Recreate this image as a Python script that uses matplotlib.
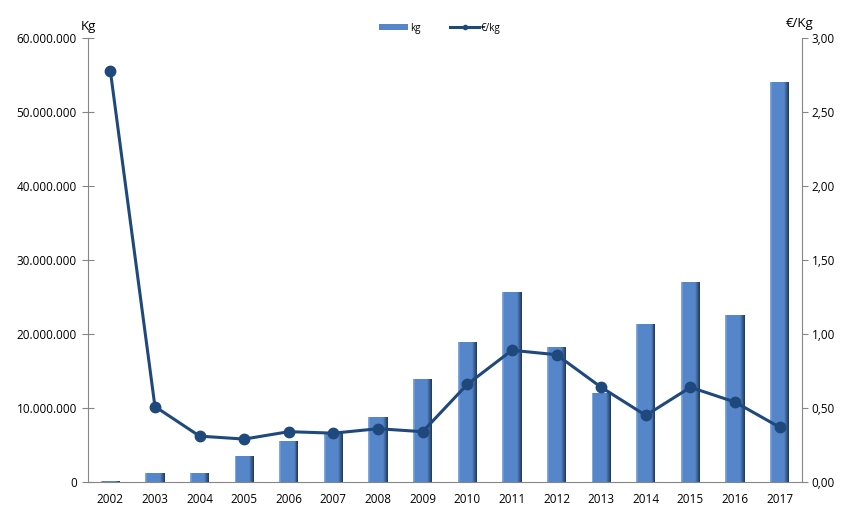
import numpy as np
import matplotlib
matplotlib.use('Agg')
import matplotlib.pyplot as plt
from matplotlib.ticker import FuncFormatter
from matplotlib.lines import Line2D
from matplotlib.patches import Patch
from matplotlib.colors import to_rgb

plt.rcParams['font.family'] = ['Open Sans', 'DejaVu Sans']
plt.rcParams['font.size'] = 8

# ── data ──────────────────────────────────────────────
years = ['2002', '2003', '2004', '2005', '2006', '2007', '2008', '2009',
         '2010', '2011', '2012', '2013', '2014', '2015', '2016', '2017']
kg = [0.2e6, 1.2e6, 1.2e6, 3.5e6, 5.5e6, 6.6e6, 8.8e6, 13.9e6,
      18.9e6, 25.7e6, 18.2e6, 12.0e6, 21.4e6, 27.0e6, 22.6e6, 54.0e6]
eur_kg = [2.78, 0.51, 0.31, 0.29, 0.34, 0.33, 0.36, 0.34,
          0.66, 0.89, 0.86, 0.64, 0.45, 0.64, 0.54, 0.37]

BAR_BLUE = '#5686CA'
BAR_DARK = '#1E3557'
BAR_LIGHT = '#8FB1E2'
LINE_BLUE = '#1F497D'
AXIS_GREY = '#868686'

x = np.arange(len(years))

fig = plt.figure(figsize=(8.5, 5.17), dpi=100)
ax = fig.add_axes([88 / 850, 35 / 517, (802 - 88) / 850, (482 - 38) / 517])
ax2 = ax.twinx()

# bars drawn as thin vertical strips to fake the bevelled gradient
w = 0.43
n_strips = 20
edges = np.linspace(-w / 2, w / 2, n_strips + 1)
c_light, c_mid, c_dark = (np.array(to_rgb(c)) for c in (BAR_LIGHT, BAR_BLUE, BAR_DARK))
for i in range(n_strips):
    t = (i + 0.5) / n_strips
    if t < 0.12:
        col = c_light + (c_mid - c_light) * (t / 0.12)
    elif t < 0.75:
        col = c_mid
    else:
        col = c_mid + (c_dark - c_mid) * ((t - 0.75) / 0.25)
    sw = edges[i + 1] - edges[i]
    ax.bar(x + edges[i] + sw / 2, kg, width=sw * 1.05, color=col, linewidth=0, zorder=2)

ax2.plot(x, eur_kg, color=LINE_BLUE, linewidth=2.2, marker='o',
         markersize=7.5, markerfacecolor=LINE_BLUE, markeredgecolor=LINE_BLUE, zorder=3)

ax.set_xlim(-0.5, len(years) - 0.5)
ax.set_ylim(0, 60e6)
ax.set_yticks(np.arange(0, 60e6 + 1, 10e6))
ax.yaxis.set_major_formatter(FuncFormatter(lambda v, p: f'{int(v):,}'.replace(',', '.')))
ax2.set_ylim(0, 3)
ax2.set_yticks(np.arange(0, 3.01, 0.5))
ax2.yaxis.set_major_formatter(FuncFormatter(lambda v, p: f'{v:.2f}'.replace('.', ',')))

ax.set_xticks(x)
ax.set_xticklabels(years)

for a in (ax, ax2):
    a.spines['top'].set_visible(False)
    for s in ('left', 'right', 'bottom'):
        a.spines[s].set_color(AXIS_GREY)
ax.spines['right'].set_visible(False)
ax2.spines['left'].set_visible(False)
ax2.spines['bottom'].set_visible(False)

ax.tick_params(axis='y', direction='inout', length=8, color=AXIS_GREY, pad=4, labelsize=8.5)
ax.tick_params(axis='x', length=0, pad=8, labelsize=8.5)
ax2.tick_params(axis='y', direction='out', length=4, color=AXIS_GREY, pad=3, labelsize=8.5)

fig.text(88 / 850, 1 - 27 / 517, 'Kg', ha='center', va='center', fontsize=9.5)
fig.text(800 / 850, 1 - 24 / 517, '€/Kg', ha='center', va='center', fontsize=9.5)

handles = [Patch(facecolor=BAR_BLUE, edgecolor='none'),
           Line2D([0], [0], color=LINE_BLUE, linewidth=2.2, marker='o', markersize=3)]
fig.legend(handles, ['kg', '€/kg'], loc='center', bbox_to_anchor=(440 / 850, 1 - 28 / 517),
           ncol=2, frameon=False, fontsize=7, handlelength=3.0, handleheight=0.5,
           columnspacing=3.0, handletextpad=0.2)

fig.savefig('out.png', dpi=100, facecolor='white')
plt.close()
